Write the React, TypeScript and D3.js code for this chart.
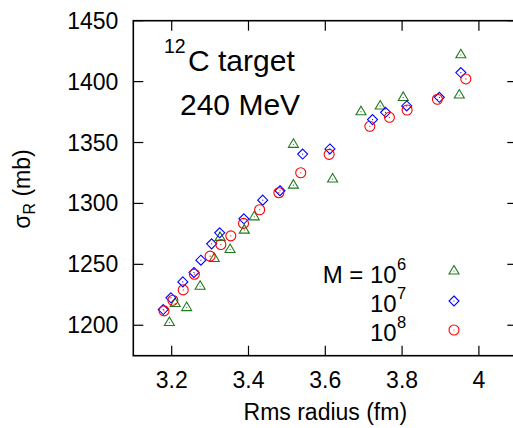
import React from "react";
import * as d3 from "d3";

// M = 10^6 (green triangles)
const m6X = [3.194, 3.209, 3.239, 3.274, 3.311, 3.326, 3.352, 3.389, 3.415, 3.517, 3.517, 3.619, 3.693, 3.743, 3.803, 3.949, 3.953];
const m6Y = [1202.2, 1217.8, 1214.5, 1232, 1254.8, 1272.1, 1262.2, 1278.1, 1289, 1315, 1348.5, 1320, 1375.3, 1380, 1387, 1389, 1422];
// M = 10^7 (blue diamonds)
const m7X = [3.178, 3.198, 3.229, 3.258, 3.276, 3.304, 3.325, 3.388, 3.437, 3.482, 3.541, 3.612, 3.723, 3.757, 3.812, 3.897, 3.953];
const m7Y = [1212.9, 1222.5, 1235.6, 1243.3, 1253.4, 1266.8, 1275.9, 1287.4, 1302.7, 1310.4, 1340.5, 1344.7, 1368.8, 1374.8, 1380, 1387.1, 1407.4];
// M = 10^8 (red circles)
const m8X = [3.18, 3.203, 3.23, 3.259, 3.3, 3.328, 3.354, 3.387, 3.429, 3.479, 3.536, 3.61, 3.716, 3.767, 3.813, 3.892, 3.966];
const m8Y = [1211.8, 1220.5, 1229, 1241.9, 1256.7, 1266.3, 1273.4, 1283.6, 1294.8, 1308.8, 1325.2, 1340.3, 1363.3, 1370.7, 1376.7, 1385.5, 1402.2];

const xTicks = [3.2, 3.4, 3.6, 3.8, 4.0];
const yTicks = [1200, 1250, 1300, 1350, 1400, 1450];
const legendExps = ["6", "7", "8"];

const W = 513;
const H = 428;
const left = 133.3;
const right = 517.3;
const top = 20.7;
const bottom = 355.7;

const FONT = "'Liberation Sans', Arial, Helvetica, sans-serif";
const GREEN = "#1d7a1d";
const BLUE = "#0000ff";
const RED = "#ff0000";

function Tri({ cx, cy, color }: { cx: number; cy: number; color: string }) {
  return (
    <g transform={`translate(${cx},${cy})`}>
      <path d="M0,-5.5L5,3L-5,3Z" fill="none" stroke={color} strokeWidth={1.1} />
      <circle r={0.6} fill={color} />
    </g>
  );
}
function Dia({ cx, cy, color }: { cx: number; cy: number; color: string }) {
  return (
    <g transform={`translate(${cx},${cy})`}>
      <path d="M0,-5L5,0L0,5L-5,0Z" fill="none" stroke={color} strokeWidth={1.1} />
      <circle r={0.6} fill={color} />
    </g>
  );
}
function Circ({ cx, cy, color }: { cx: number; cy: number; color: string }) {
  return (
    <g transform={`translate(${cx},${cy})`}>
      <circle r={5} fill="none" stroke={color} strokeWidth={1.1} />
      <circle r={0.6} fill={color} />
    </g>
  );
}

export default function App() {
  const x = d3.scaleLinear().domain([3.1, 4.1]).range([left, right]);
  const y = d3.scaleLinear().domain([1175, 1450]).range([bottom, top]);
  const tickLen = 10;

  const legendYs = [271, 301, 330];
  const legendTextY = [282.7, 311.7, 340.7];

  return (
    <svg
      width={W}
      height={H}
      style={{ position: "absolute", left: 0, top: 0, background: "#fff" }}
      fontFamily={FONT}
    >
      <rect x={0} y={0} width={W} height={H} fill="#fff" />
      {/* frame */}
      <rect x={left} y={top} width={right - left} height={bottom - top} fill="none" stroke="#000" strokeWidth={1.6} />
      {/* x ticks */}
      {xTicks.map((t) => (
        <g key={"x" + t}>
          <line x1={x(t)} x2={x(t)} y1={bottom} y2={bottom - tickLen} stroke="#000" strokeWidth={1.2} />
          <line x1={x(t)} x2={x(t)} y1={top} y2={top + tickLen} stroke="#000" strokeWidth={1.2} />
          <text x={x(t)} y={388} textAnchor="middle" fontSize={23}>
            {d3.format("~g")(t)}
          </text>
        </g>
      ))}
      {/* y ticks */}
      {yTicks.map((t) => (
        <g key={"y" + t}>
          <line x1={left} x2={left + tickLen} y1={y(t)} y2={y(t)} stroke="#000" strokeWidth={1.2} />
          <line x1={right} x2={right - tickLen} y1={y(t)} y2={y(t)} stroke="#000" strokeWidth={1.2} />
          <text x={118.3} y={y(t) + 8} textAnchor="end" fontSize={23}>
            {t}
          </text>
        </g>
      ))}
      {/* axis labels */}
      <text x={(left + right) / 2} y={420} textAnchor="middle" fontSize={23}>
        Rms radius (fm)
      </text>
      <text transform={`translate(30,189) rotate(-90)`} textAnchor="middle" fontSize={23}>
        σ<tspan fontSize={16} dy={5}>R</tspan>
        <tspan dy={-5}> (mb)</tspan>
      </text>
      {/* annotation */}
      <text x={164} y={53} fontSize={19.5}>12</text>
      <text x={188} y={70.5} fontSize={30}>C target</text>
      <text x={180} y={115} fontSize={30}>240 MeV</text>

      {/* data */}
      {m6X.map((v, i) => (
        <Tri key={"g" + i} cx={x(v)} cy={y(m6Y[i])} color={GREEN} />
      ))}
      {m7X.map((v, i) => (
        <Dia key={"b" + i} cx={x(v)} cy={y(m7Y[i])} color={BLUE} />
      ))}
      {m8X.map((v, i) => (
        <Circ key={"r" + i} cx={x(v)} cy={y(m8Y[i])} color={RED} />
      ))}

      {/* legend */}
      {legendExps.map((e, i) => (
        <g key={"l" + e}>
          <text x={396.7} y={legendTextY[i]} textAnchor="end" fontSize={24}>
            {i === 0 ? "M = 10" : "10"}
          </text>
          <text x={397} y={legendTextY[i] - 12.5} fontSize={16.5}>
            {e}
          </text>
        </g>
      ))}
      <Tri cx={454} cy={legendYs[0]} color={GREEN} />
      <Dia cx={454} cy={legendYs[1]} color={BLUE} />
      <Circ cx={454} cy={legendYs[2]} color={RED} />
    </svg>
  );
}
